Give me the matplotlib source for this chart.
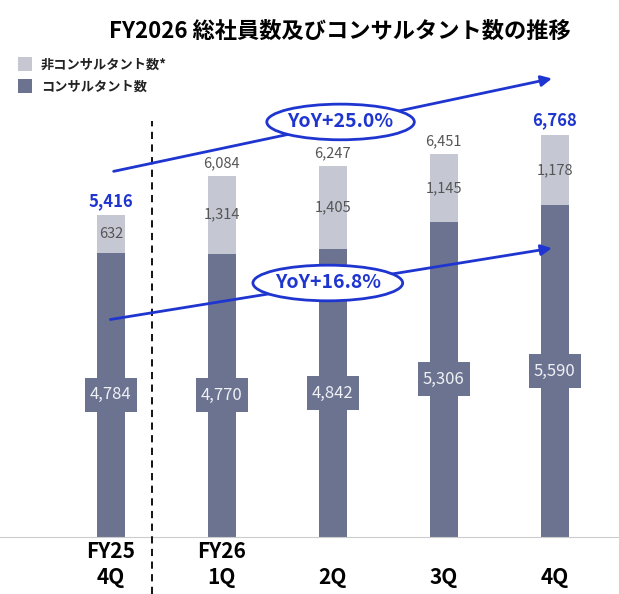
import matplotlib.pyplot as plt
from matplotlib.patches import Ellipse, Rectangle

plt.rcParams['font.family'] = ['Noto Sans CJK JP', 'DejaVu Sans']

# データ
periods = ['FY25\n4Q', 'FY26\n1Q', '\n2Q', '\n3Q', '\n4Q']
consultants = [4784, 4770, 4842, 5306, 5590]
non_consultants = [632, 1314, 1405, 1145, 1178]
totals = [5416, 6084, 6247, 6451, 6768]
yoy_total = 'YoY+25.0%'
yoy_consult = 'YoY+16.8%'

dark = '#6b7390'
light = '#c5c8d3'
blue = '#1f35d0'
gray_txt = '#555555'

fig = plt.figure(figsize=(6.19, 5.94), dpi=100)
ax = fig.add_axes([0, 1 - 537 / 594, 1, 537 / 594])

x = list(range(len(periods)))
w = 0.25
ax.bar(x, consultants, width=w, color=dark, zorder=2)
ax.bar(x, non_consultants, width=w, bottom=consultants, color=light, zorder=2)

ax.set_xlim(-1.0, 4.58)
ax.set_ylim(0, 9040)

# 値ラベル
for i in x:
    ax.add_patch(Rectangle((i - 0.234, consultants[i] / 2 - 286), 0.468, 572,
                           fc=dark, ec='none', zorder=3))
    ax.text(i, consultants[i] / 2, f'{consultants[i]:,}', ha='center', va='center',
            color='#f0f1f6', fontsize=12, zorder=4)
    ax.text(i, consultants[i] + non_consultants[i] / 2, f'{non_consultants[i]:,}',
            ha='center', va='center', color=gray_txt, fontsize=10.5, zorder=4)
    first_last = i in (0, len(x) - 1)
    ax.text(i, totals[i] + 90, f'{totals[i]:,}', ha='center', va='bottom',
            color=blue if first_last else gray_txt,
            fontsize=12 if first_last else 10.5,
            fontweight='bold' if first_last else 'normal', zorder=4)

# 区切り線
ax.plot([0.37, 0.37], [-960, 7000], ls=(0, (4, 3)), color='black', lw=1.3,
        clip_on=False, zorder=3)

# YoY 矢印
ax.annotate('', xy=(4.0, totals[-1] + 960), xytext=(0, totals[0] + 730),
            arrowprops=dict(arrowstyle='-|>', color=blue, lw=2, mutation_scale=16),
            zorder=5)
ax.annotate('', xy=(4.0, consultants[-1] - 720), xytext=(-0.03, consultants[0] - 1130),
            arrowprops=dict(arrowstyle='-|>', color=blue, lw=2, mutation_scale=16),
            zorder=5)
for cx, cy, wd, txt in [(2.07, 6987, 1.33, yoy_total), (1.955, 4276, 1.35, yoy_consult)]:
    ax.add_patch(Ellipse((cx, cy), wd, 600, fc='white', ec=blue, lw=2, zorder=6))
    ax.text(cx, cy, txt, ha='center', va='center', color=blue, fontsize=14,
            fontweight='bold', zorder=7)

# 軸
for s in ['top', 'right', 'left']:
    ax.spines[s].set_visible(False)
ax.spines['bottom'].set_color('#cccccc')
ax.set_yticks([])
ax.set_xticks(x)
ax.set_xticklabels(periods, fontsize=15, fontweight='bold', linespacing=1.3)
ax.tick_params(axis='x', length=0, pad=3)

# タイトル・凡例
fig.text(0.549, 0.948, 'FY2026 総社員数及びコンサルタント数の推移', ha='center', va='center',
         fontsize=16, fontweight='bold')
fig.patches.append(Rectangle((18 / 619, 1 - 71 / 594), 14 / 619, 14 / 594,
                             transform=fig.transFigure, fc=light, ec='none'))
fig.patches.append(Rectangle((18 / 619, 1 - 93 / 594), 14 / 619, 14 / 594,
                             transform=fig.transFigure, fc=dark, ec='none'))
fig.text(41 / 619, 1 - 65 / 594, '非コンサルタント数*', va='center', fontsize=9.5,
         fontweight='bold', color='#222222')
fig.text(41 / 619, 1 - 87 / 594, 'コンサルタント数', va='center', fontsize=9.5,
         fontweight='bold', color='#222222')

fig.savefig('out.png', dpi=100)
